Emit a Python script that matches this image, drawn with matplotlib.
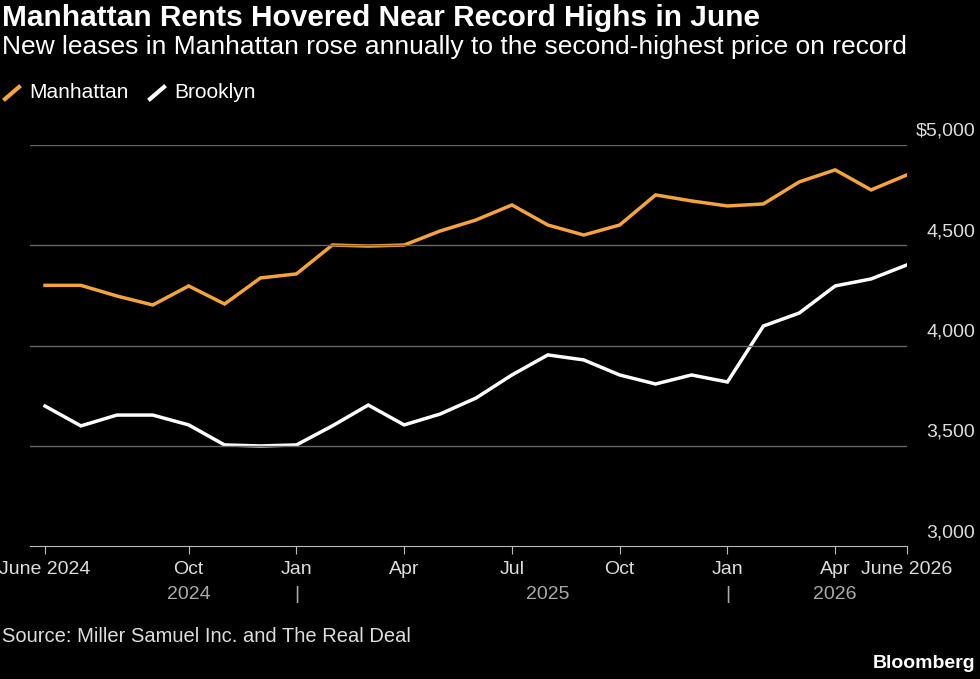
import matplotlib
matplotlib.use("Agg")
import matplotlib.pyplot as plt
from matplotlib.lines import Line2D

manhattan = [4300,4300,4247,4202,4297,4207,4337,4357,4501,4496,4501,4571,4626,4701,4601,4551,4601,4751,4721,4696,4706,4816,4876,4776,4851]
brooklyn = [3698,3599,3653,3653,3604,3504,3499,3504,3599,3703,3604,3658,3738,3853,3953,3928,3853,3808,3853,3818,4097,4162,4297,4332,4402]
xtick_pos = [0,4,7,10,13,16,19,22,24]
xtick_labels = ["June 2024","Oct","Jan","Apr","Jul","Oct","Jan","Apr","June 2026"]
year_labels = [(4,"2024"),(14,"2025"),(22,"2026")]
sep_pos = [7,19]
yticks = [3000,3500,4000,4500,5000]
ytick_labels = ["3,000","3,500","4,000","4,500","$5,000"]

plt.rcParams['font.family'] = ['Liberation Sans','DejaVu Sans']
W,H = 980,679
fig = plt.figure(figsize=(9.8,6.79), dpi=100, facecolor='black')
ax = fig.add_axes([30/W, (H-546)/H, (907-30)/W, 401/H])
ax.set_facecolor('black')
x = list(range(len(manhattan)))
ax.plot(x, manhattan, color='#f5a33b', lw=2.5, solid_joinstyle='miter')
ax.plot(x, brooklyn, color='white', lw=2.5, solid_joinstyle='miter')
ax.set_xlim(-15/35.92, 24)
ax.set_ylim(3000,5000)
for s in ax.spines.values(): s.set_visible(False)
ax.spines['bottom'].set_visible(True); ax.spines['bottom'].set_color('#bbbbbb')
ax.set_yticks([])
for v in yticks[1:]:
    ax.axhline(v, color='#666666', lw=1, xmax=1)
for v,l in zip(yticks,ytick_labels):
    ax.text(975/W, (H-546+(v-3000)*401/2000+5)/H, l, transform=fig.transFigure, ha='right', va='bottom', color='#dddddd', fontsize=14)
ax.set_xticks(xtick_pos)
ax.set_xticklabels(xtick_labels, color='#dddddd', fontsize=14)
ax.tick_params(axis='x', colors='#bbbbbb', length=6, labelcolor='#dddddd', pad=5)
for p,l in year_labels:
    ax.text(p, -0.12, l, transform=ax.get_xaxis_transform(), ha='center', va='center', color='#aaaaaa', fontsize=14)
for p in sep_pos:
    ax.text(p, -0.12, "|", transform=ax.get_xaxis_transform(), ha='center', va='center', color='#aaaaaa', fontsize=14)

fig.text(2/W, 1-18/H, "Manhattan Rents Hovered Near Record Highs in June", color='white', fontsize=21.5, fontweight='bold', va='center')
fig.text(2/W, 1-47/H, "New leases in Manhattan rose annually to the second-highest price on record", color='white', fontsize=19, va='center')
fig.text(2/W, 1-637/H, "Source: Miller Samuel Inc. and The Real Deal", color='#dddddd', fontsize=14.5, va='center')
fig.text(975/W, 1-663/H, "Bloomberg", color='white', fontsize=14, fontweight='bold', ha='right', va='center')
for x0,c,t in [(5,'#f5a33b','Manhattan'),(150,'white','Brooklyn')]:
    fig.add_artist(Line2D([x0/W,(x0+14)/W],[1-99/H,1-87/H], color=c, lw=3, transform=fig.transFigure))
    fig.text((x0+24)/W, 1-93/H, t, color='white', fontsize=15, va='center')
fig.savefig('out.png', dpi=100, facecolor='black')
